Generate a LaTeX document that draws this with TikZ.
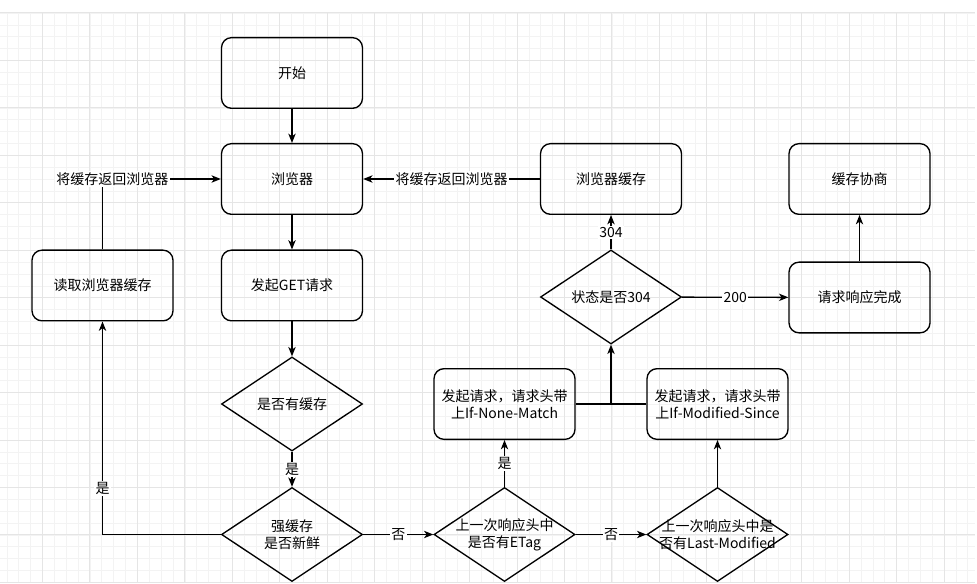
\documentclass[tikz,border=0pt]{standalone}
\usepackage{fontspec}
\setmainfont{Noto Sans CJK SC}
\usetikzlibrary{shapes.geometric,arrows.meta}
\definecolor{gmajor}{HTML}{E5E5E5}
\definecolor{gminor}{HTML}{F3F3F3}
\begin{document}
\begin{tikzpicture}[x=0.75pt,y=-0.75pt,
  every node/.style={font=\fontsize{10.5pt}{12.5pt}\selectfont},
  box/.style={draw,line width=1pt,rounded corners=7.5pt,minimum width=105.75pt,minimum height=53pt,align=center,inner sep=0pt},
  dia/.style={draw,diamond,line width=1pt,minimum width=105.75pt,minimum height=70.5pt,inner sep=0pt},
  arr/.style={line width=1pt,-{Stealth[length=7pt,width=5.5pt,inset=2pt]}},
  ln/.style={line width=1pt},
  lbl/.style={fill=white,inner sep=1pt}]
\useasboundingbox[fill=white] (0,0) rectangle (977,584);
% grid
\begin{scope}
\clip (0,13) rectangle (975,582);
\foreach \i in {-4,...,79} {
  \draw[gminor,line width=0.5pt] ({42.5+11.8625*\i},13) -- ({42.5+11.8625*\i},582);
}
\foreach \j in {0,...,48} {
  \draw[gminor,line width=0.5pt] (0,{13+11.8625*\j}) -- (975,{13+11.8625*\j});
}
\foreach \i in {-1,...,20} {
  \draw[gmajor,line width=0.75pt] ({42.5+47.45*\i},13) -- ({42.5+47.45*\i},582);
}
\foreach \j in {0,...,12} {
  \draw[gmajor,line width=0.75pt] (0,{13+47.45*\j}) -- (975,{13+47.45*\j});
}
\end{scope}
% nodes
\node[box] (start) at (292,73) {开始};
\node[box] (browser) at (292,179) {浏览器};
\node[box] (get) at (292,285.5) {发起GET请求};
\node[box] (read) at (102.5,285.5) {读取浏览器缓存};
\node[dia] (has) at (292,404) {};
\node[dia] (fresh) at (292,534.5) {};
\node[box] (bcache) at (611,179) {浏览器缓存};
\node[box] (nego) at (859.5,179) {缓存协商};
\node[dia] (s304) at (611,297) {};
\node[box] (done) at (859.5,297.5) {请求响应完成};
\node[box] (inm) at (504.5,404) {发起请求，请求头带\\上If-None-Match};
\node[box] (ims) at (717.5,404) {发起请求，请求头带\\上If-Modified-Since};
\node[dia] (etag) at (504.5,534.5) {};
\node[dia] (lm) at (717.5,534.5) {};
\node[align=center] (hasT) at (has.center) {是否有缓存};
\node[align=center] (freshT) at (fresh.center) {强缓存\\是否新鲜};
\node[align=center] (s304T) at (s304.center) {状态是否304};
\node[align=center] (etagT) at (etag.center) {上一次响应头中\\是否有ETag};
\node[align=center] (lmT) at (lm.center) {上一次响应头中是\\否有Last-Modified};
% edges
\draw[arr] (start) -- (browser);
\draw[arr] (browser) -- (get);
\draw[arr] (get) -- (has);
\draw[arr] (has) -- node[lbl] (l1) {是} (fresh);
\draw[arr] (fresh.west) -| node[lbl,pos=0.608] (l2) {是} (read.south);
\draw[arr] (read.north) |- node[lbl,pos=0.542] (l3) {将缓存返回浏览器} (browser.west);
\draw[arr] (bcache) -- node[lbl] (l4) {将缓存返回浏览器} (browser);
\draw[arr] (s304) -- node[lbl] (l5) {304} (bcache);
\draw[arr] (s304) -- node[lbl] (l6) {200} (done);
\draw[arr] (done) -- (nego);
\draw[ln] (inm.east) -- (ims.west);
\draw[arr] (inm.east -| s304.south) -- (s304.south);
\draw[arr] (etag) -- node[lbl] (l7) {是} (inm);
\draw[arr] (fresh) -- node[lbl] (l8) {否} (etag);
\draw[arr] (etag) -- node[lbl] (l9) {否} (lm);
\draw[arr] (lm) -- (ims);
\end{tikzpicture}
\end{document}
